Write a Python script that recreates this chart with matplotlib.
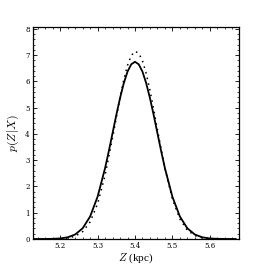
import matplotlib
matplotlib.use("Agg")
import matplotlib.pyplot as plt
from matplotlib.ticker import MultipleLocator

plt.rcParams['font.family'] = ['DejaVu Serif']
plt.rcParams['mathtext.fontset'] = 'cm'

solid_x = [5.13, 5.16, 5.18, 5.20, 5.22, 5.24, 5.26, 5.28, 5.30, 5.32, 5.33, 5.34, 5.35, 5.36, 5.37, 5.38, 5.39,
           5.40, 5.41, 5.42, 5.43, 5.44, 5.45, 5.46, 5.47, 5.48, 5.50, 5.52, 5.54, 5.56, 5.58, 5.60, 5.62, 5.64, 5.67]
solid_y = [0.0, 0.0018, 0.0066, 0.022, 0.065, 0.173, 0.409, 0.860, 1.615, 2.703, 3.350, 4.035, 4.723, 5.369, 5.934, 6.375, 6.654,
           6.75, 6.654, 6.375, 5.934, 5.369, 4.723, 4.035, 3.350, 2.703, 1.615, 0.860, 0.409, 0.173, 0.065, 0.022, 0.0066, 0.0018, 0.0]

dot_x = [5.20, 5.22, 5.24, 5.26, 5.28, 5.30, 5.32, 5.34, 5.36, 5.37, 5.38, 5.39, 5.40, 5.41, 5.42, 5.43, 5.44, 5.45,
         5.46, 5.48, 5.50, 5.52, 5.54, 5.56, 5.58, 5.60]
dot_y = [0.010, 0.035, 0.106, 0.280, 0.654, 1.345, 2.429, 3.865, 5.388, 6.069, 6.615, 6.987, 7.15, 7.077, 6.788, 6.304, 5.670, 4.939,
         4.166, 2.690, 1.529, 0.764, 0.335, 0.130, 0.044, 0.013]

fig = plt.figure(figsize=(2.66, 2.66), dpi=100)
ax = fig.add_axes([0.124, 0.1015, 0.774, 0.7965])
ax.plot(solid_x, solid_y, color='black', lw=1.3, solid_capstyle='round')
ax.plot(dot_x, dot_y, color='black', lw=1.1, linestyle=(0, (1, 2.8)))

ax.set_xlim(5.127, 5.678)
ax.set_ylim(0, 8.07)
ax.xaxis.set_major_locator(MultipleLocator(0.1))
ax.xaxis.set_minor_locator(MultipleLocator(0.02))
ax.yaxis.set_major_locator(MultipleLocator(1))
ax.yaxis.set_minor_locator(MultipleLocator(0.2))
ax.tick_params(which='both', direction='in', top=True, right=True, labelsize=5, pad=2.5)
ax.tick_params(which='major', length=3, width=0.6)
ax.tick_params(which='minor', length=1.5, width=0.5)
for s in ax.spines.values():
    s.set_linewidth(0.9)
ax.set_xlabel(r'$Z$ (kpc)', fontsize=8, labelpad=0.5, family='Liberation Serif')
ax.set_ylabel(r'$p(Z|X)$', fontsize=8.5, labelpad=3)

fig.savefig('out.png', dpi=100)
